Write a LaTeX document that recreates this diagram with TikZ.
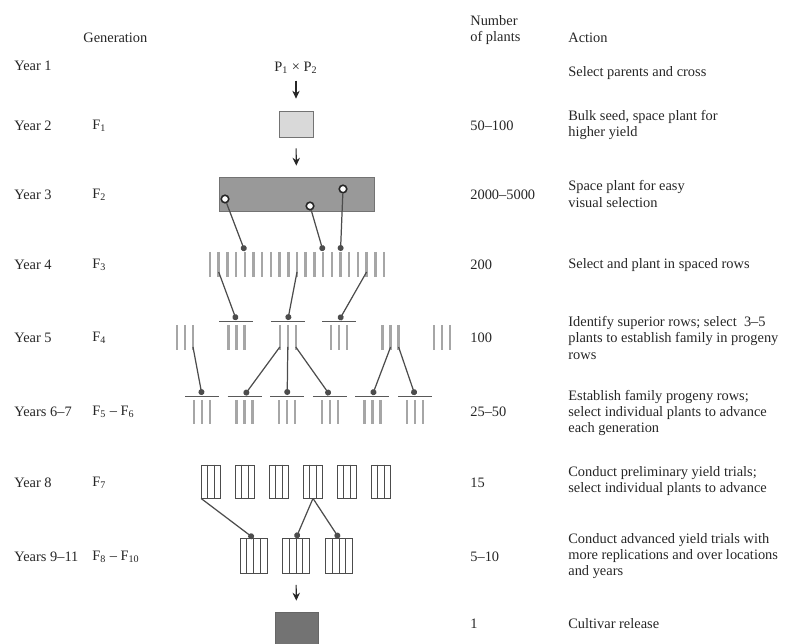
\documentclass[tikz,border=0pt]{standalone}
\usepackage{fontspec}
\setmainfont{Liberation Serif}
\usetikzlibrary{arrows.meta}

\begin{document}
\begin{tikzpicture}[x=0.02cm, y=-0.02cm, font=\fontsize{8.2}{9.3}\selectfont,
    txt/.style={anchor=west, align=left, inner sep=0pt, text=black!85},
    seedrow/.style={draw=black!35, line width=1.4pt},
    bar/.style={draw=black!65, line width=0.5pt},
    plot/.style={draw=black!70, line width=0.5pt},
    pick/.style={draw=black!70, line width=0.7pt, -{Circle[length=3.4pt]}},
    down/.style={draw=black!85, line width=0.6pt, -{Stealth[length=4.5pt, width=4.2pt]}},
    sel/.style={circle, draw=black!85, fill=white, line width=0.9pt, inner sep=0pt, minimum size=4.3pt}]
  \useasboundingbox (0,0) rectangle (785,644);

  % column heads
  \node[txt] (genhead) at (83,38) {Generation};
  \node[txt] (numhead) at (470,30) {Number\\of plants};
  \node[txt] (acthead) at (568,38) {Action};

  % years, generations, numbers
  \foreach \y/\yr/\gen/\num [count=\r] in {
      66/Year 1//,
      126/Year 2/F\textsubscript{1}/50--100,
      195/Year 3/F\textsubscript{2}/2000--5000,
      265/Year 4/F\textsubscript{3}/200,
      338/Year 5/F\textsubscript{4}/100,
      412/Years 6--7/F\textsubscript{5} -- F\textsubscript{6}/25--50,
      483/Year 8/F\textsubscript{7}/15,
      557/Years 9--11/F\textsubscript{8} -- F\textsubscript{10}/5--10,
      624///1} {
    \node[txt] (yr\r) at (14,\y) {\yr};
    \node[txt] (gen\r) at (92,\y) {\gen};
    \node[txt] (num\r) at (470,\y) {\num};
  }

  % actions
  \node[txt] (act1) at (568,73) {Select parents and cross};
  \node[txt] (act2) at (568,125) {Bulk seed, space plant for\\higher yield};
  \node[txt] (act3) at (568,194) {Space plant for easy\\visual selection};
  \node[txt] (act4) at (568,265) {Select and plant in spaced rows};
  \node[txt] (act5) at (568,338) {Identify superior rows; select\ \ 3--5\\plants to establish family in progeny\\rows};
  \node[txt] (act6) at (568,413) {Establish family progeny rows;\\select individual plants to advance\\each generation};
  \node[txt] (act7) at (568,481) {Conduct preliminary yield trials;\\select individual plants to advance};
  \node[txt] (act8) at (568,556) {Conduct advanced yield trials with\\more replications and over locations\\and years};
  \node[txt] (act9) at (568,624) {Cultivar release};

  % cross, F1, F2
  \node[text=black!85, inner sep=1pt] (cross) at (296,68) {P\textsubscript{1} × P\textsubscript{2}};
  \node[draw=black!55, fill=black!15, minimum width=0.68cm, minimum height=0.52cm] (f1) at (296,124) {};
  \node[draw=black!55, fill=black!40, minimum width=3.1cm, minimum height=0.68cm] (f2) at (296.5,194) {};
  \draw[down, shorten <=0.1cm, shorten >=0.24cm] (cross) -- (f1);
  \draw[down, shorten <=0.22cm, shorten >=0.22cm] (f1) -- (f2);

  \node[sel] (s1) at (225,199) {};
  \node[sel] (s2) at (310,206) {};
  \node[sel] (s3) at (343,189) {};

  % F3 rows
  \foreach \i in {0,...,20} {
    \draw[seedrow] (210+8.7*\i,252) -- (210+8.7*\i,277);
    \coordinate (f3t\i) at (210+8.7*\i,251);
    \coordinate (f3m\i) at (210+8.7*\i,272);
  }
  \draw[pick] (s1) -- (f3t4);
  \draw[pick] (s2) -- (f3t13);
  \draw[pick] (s3) -- (f3t15);

  % F4 rows
  \foreach \k in {0,...,5} {
    \foreach \dx in {-8,0,8}
      \draw[seedrow] (185+51.4*\k+\dx,325) -- (185+51.4*\k+\dx,350);
    \coordinate (f4t\k) at (185+51.4*\k,320);
    \coordinate (f4L\k) at (185+51.4*\k-8,347);
    \coordinate (f4C\k) at (185+51.4*\k,347);
    \coordinate (f4R\k) at (185+51.4*\k+8,347);
  }
  \foreach \k in {1,2,3}
    \draw[bar] (185+51.4*\k-17,321) -- (185+51.4*\k+17,321);
  \draw[pick] (f3m1) -- (f4t1);
  \draw[pick] (f3m10) -- (f4t2);
  \draw[pick] (f3m18) -- (f4t3);

  % F5 - F6 rows
  \foreach \k in {0,...,5} {
    \draw[bar] (202+42.6*\k-17,396) -- (202+42.6*\k+17,396);
    \foreach \dx in {-8,0,8}
      \draw[seedrow] (202+42.6*\k+\dx,400) -- (202+42.6*\k+\dx,424);
    \coordinate (f5t\k) at (202+42.6*\k,395);
  }
  \draw[pick] (f4R0) -- (f5t0);
  \draw[pick] (f4L2) -- (f5t1);
  \draw[pick] (f4C2) -- (f5t2);
  \draw[pick] (f4R2) -- (f5t3);
  \draw[pick] (f4C4) -- (f5t4);
  \draw[pick] (f4R4) -- (f5t5);

  % F7 plots
  \foreach \k in {0,...,5} {
    \node[plot, minimum width=0.38cm, minimum height=0.66cm, inner sep=0pt] (f7\k) at (211+34*\k,481.5) {};
    \draw[plot] ([xshift=-0.064cm]f7\k.north) -- ([xshift=-0.064cm]f7\k.south);
    \draw[plot] ([xshift=0.064cm]f7\k.north) -- ([xshift=0.064cm]f7\k.south);
  }

  % F8 - F10 plots
  \foreach \k/\x in {0/253.5,1/296,2/339} {
    \node[plot, minimum width=0.54cm, minimum height=0.7cm, inner sep=0pt] (f8\k) at (\x,556) {};
    \foreach \dx in {-0.135,0,0.135}
      \draw[plot] ([xshift=\dx cm]f8\k.north) -- ([xshift=\dx cm]f8\k.south);
  }
  \draw[pick] (f70.south west) -- (f80.north);
  \draw[pick] (f73.south) -- (f81.north);
  \draw[pick] (f73.south) -- (f82.north);

  % release
  \node[draw=black!60, fill=black!55, minimum width=0.86cm, minimum height=0.72cm] (cult) at (296.5,630) {};
  \draw[down, shorten <=0.22cm, shorten >=0.22cm] (f81) -- (cult);
\end{tikzpicture}
\end{document}
